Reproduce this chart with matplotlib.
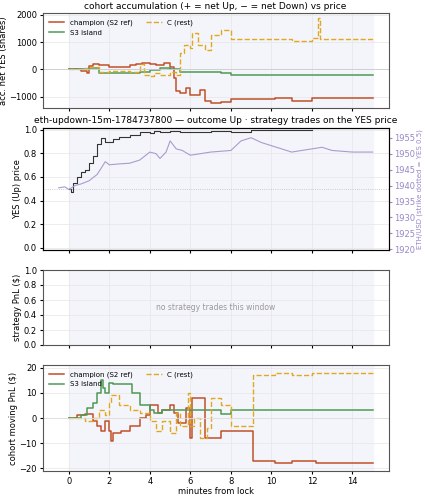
import matplotlib
matplotlib.use("Agg")
import matplotlib.pyplot as plt
import numpy as np

# ---- panel 1: accumulation (minutes, shares)
champ_t = [0, 0.6, 0.9, 1.0, 1.2, 1.5, 2.0, 2.5, 3.0, 3.3, 3.6, 4.0, 4.3, 4.7, 5.0, 5.2, 5.3, 5.5, 5.8, 6.0, 6.3, 6.5, 6.7, 7.0, 7.5, 8.0, 9.0, 10.0, 10.2, 11.0, 12.0, 15.0]
champ_v = [0, -50, -120, 120, 180, 150, 100, 80, 150, 200, 250, 200, 150, 250, 100, -300, -800, -850, -700, -950, -950, -750, -1150, -1250, -1200, -1100, -1100, -1100, -1050, -1150, -1050, -1050]
s3_t = [0, 0.6, 1.0, 1.5, 2.5, 3.0, 3.5, 4.0, 4.5, 5.0, 5.5, 7.5, 8.0, 15.0]
s3_v = [0, 30, 40, -150, -150, -120, -100, -20, 50, 0, -100, -150, -200, -200]
c_t = [0, 0.8, 1.0, 1.5, 2.0, 3.0, 3.5, 3.7, 4.0, 4.2, 4.5, 5.0, 5.3, 5.5, 5.7, 6.0, 6.1, 6.4, 6.7, 7.0, 7.5, 8.0, 9.0, 10.0, 11.0, 12.0, 12.3, 12.4, 15.0]
c_v = [0, 50, 100, -100, -50, -100, 200, -200, -250, -150, -200, -100, -200, 600, 900, 800, 1350, 900, 700, 1250, 1450, 1100, 1100, 1100, 1050, 1150, 1900, 1100, 1050]

# ---- panel 2: YES price and ETH price
yes_t = [0, 0.1, 0.2, 0.4, 0.6, 0.8, 1.0, 1.2, 1.4, 1.6, 1.8, 2.0, 2.2, 2.5, 3.0, 3.5, 4.0, 4.2, 4.5, 5.0, 5.5, 6.0, 7.0, 8.0, 9.0, 10.0, 12.0]
yes_v = [0.5, 0.47, 0.55, 0.6, 0.64, 0.66, 0.72, 0.78, 0.88, 0.93, 0.90, 0.90, 0.92, 0.94, 0.96, 0.98, 0.97, 0.99, 0.98, 0.99, 0.98, 0.98, 0.99, 0.98, 1.0, 1.0, 1.0]
eth_t = [-0.5, -0.2, 0.0, 0.3, 0.6, 1.0, 1.4, 1.8, 2.0, 2.5, 3.0, 3.5, 4.0, 4.3, 4.5, 4.8, 5.0, 5.3, 5.6, 6.0, 6.5, 7.0, 8.0, 8.5, 9.0, 9.5, 10.0, 11.0, 12.0, 12.5, 13.0, 14.0, 15.0]
eth_v = [1939.3, 1939.6, 1938.8, 1940.0, 1940.5, 1941.5, 1943.5, 1947.5, 1946.5, 1946.8, 1947.0, 1948.0, 1950.5, 1950.0, 1948.5, 1950.5, 1954.0, 1951.5, 1951.0, 1949.5, 1950.0, 1950.5, 1951.0, 1954.0, 1955.0, 1953.5, 1952.5, 1950.5, 1951.5, 1952.0, 1951.0, 1950.5, 1950.5]

# ---- panel 4: cohort moving PnL
pc_t = [0, 0.4, 0.8, 1.2, 1.4, 1.6, 1.8, 2.0, 2.1, 2.2, 2.6, 3.0, 3.5, 3.8, 4.0, 4.4, 4.6, 5.0, 5.2, 5.4, 5.8, 6.0, 6.1, 6.5, 6.7, 7.5, 9.0, 9.1, 10.0, 10.2, 11.0, 12.0, 12.2, 15.0]
pc_v = [0, 1, 1.5, -1, -3, -5, -1, -5, -9, -6, -5, -3, 0, 1, 5, 2, 3, 5, 2, -2, 4, -8, 8, 8, -8, -5, -5, -17, -17, -18, -17, -17, -18, -18]
ps_t = [0, 0.6, 0.9, 1.2, 1.4, 1.6, 1.7, 1.8, 2.0, 2.1, 2.2, 3.0, 3.1, 3.5, 4.0, 4.2, 4.6, 5.0, 6.0, 7.5, 8.0, 15.0]
ps_v = [0, 1, 4, 6, 10, 15, 12, 10, 14, 14, 13.5, 13.5, 10, 5, 3, 2, 3, 3, 3, 1.5, 3, 3]
pr_t = [0, 0.8, 1.2, 1.5, 1.8, 2.0, 2.1, 2.5, 3.0, 3.5, 4.0, 4.3, 4.6, 5.0, 5.3, 5.5, 5.9, 6.0, 6.2, 6.5, 6.8, 7.0, 7.5, 8.0, 9.1, 10.2, 11.0, 12.0, 15.0]
pr_v = [0, -1, 0, 3, 1, 6, 9, 5, 3, 2, -1, -5, -1, -6, 2, -3, 10, -3, 0, -8, -4, 8, 5, -3, 17, 18, 17, 18, 18.5]

x_ticks = [0, 2, 4, 6, 8, 10, 12, 14]

RED = "#c0502a"
GREEN = "#4e9a55"
GOLD = "#e0a820"
LAV = "#f4f5fa"

fig = plt.figure(figsize=(4.25, 5.0), dpi=100)
axes = [fig.add_axes(r) for r in [
    (0.10, 0.785, 0.815, 0.188),
    (0.10, 0.50, 0.815, 0.245),
    (0.10, 0.31, 0.815, 0.15),
    (0.10, 0.058, 0.815, 0.212)]]

for ax in axes:
    ax.axvspan(0, 15, color=LAV, zorder=0)
    ax.set_xlim(-1.3, 15.8)
    ax.set_xticks(x_ticks)
    ax.grid(True, color="#e6e6e6", lw=0.5)
    ax.tick_params(labelsize=6, length=2.5, pad=1.5)
    for s in ax.spines.values():
        s.set_color("#555")
    if ax is not axes[-1]:
        ax.set_xticklabels([])

ax = axes[0]
ax.step(champ_t, champ_v, where="post", color=RED, lw=1.1, label="champion (S2 ref)")
ax.step(s3_t, s3_v, where="post", color=GREEN, lw=1.1, label="S3 island")
ax.step(c_t, c_v, where="post", color=GOLD, lw=1.0, ls="--", label="C (rest)")
ax.axhline(0, color="#ccc", lw=0.6)
ax.set_ylim(-1400, 2050)
ax.set_yticks([-1000, 0, 1000, 2000])
ax.set_ylabel("acc. net YES (shares)", fontsize=6, labelpad=1)
ax.set_title("cohort accumulation (+ = net Up, − = net Down) vs price", fontsize=6.5, pad=3)
ax.legend(loc="upper left", ncol=2, fontsize=5, frameon=False, handlelength=2.2)

ax = axes[1]
ax.step(yes_t, yes_v, where="post", color="#333", lw=0.8)
ax.axhline(0.5, color="#bbb", lw=0.6, ls=":")
ax.set_ylim(-0.02, 1.02)
ax.set_yticks([0, 0.2, 0.4, 0.6, 0.8, 1.0])
ax.set_ylabel("YES (Up) price", fontsize=6, labelpad=1)
ax.set_title("eth-updown-15m-1784737800 — outcome Up · strategy trades on the YES price", fontsize=6.5, pad=3)
ax2 = ax.twinx()
ax2.plot(eth_t, eth_v, color="#a99bd0", lw=0.8)
ax2.set_ylim(1919.8, 1958.2)
ax2.set_yticks([1920, 1925, 1930, 1935, 1940, 1945, 1950, 1955])
ax2.tick_params(labelsize=6, colors="#9a85c8", length=2.5, pad=1.5)
ax2.set_ylabel("ETH/USD (strike dotted = YES 0.5)", fontsize=5, color="#9a85c8", labelpad=1)

ax = axes[2]
ax.set_ylim(0, 1)
ax.set_yticks([0, 0.2, 0.4, 0.6, 0.8, 1.0])
ax.set_ylabel("strategy PnL ($)", fontsize=6, labelpad=1)
ax.text(0.5, 0.5, "no strategy trades this window", transform=ax.transAxes,
        ha="center", va="center", fontsize=5.5, color="#999")

ax = axes[3]
ax.step(pc_t, pc_v, where="post", color=RED, lw=1.1, label="champion (S2 ref)")
ax.step(ps_t, ps_v, where="post", color=GREEN, lw=1.1, label="S3 island")
ax.step(pr_t, pr_v, where="post", color=GOLD, lw=1.0, ls="--", label="C (rest)")
ax.axhline(0, color="#ddd", lw=0.6)
ax.set_ylim(-21, 21)
ax.set_yticks([-20, -10, 0, 10, 20])
ax.set_ylabel("cohort moving PnL ($)", fontsize=6, labelpad=1)
ax.set_xlabel("minutes from lock", fontsize=6, labelpad=1)
ax.legend(loc="upper left", ncol=2, fontsize=5, frameon=False, handlelength=2.2)

fig.savefig("out.png", dpi=100)
